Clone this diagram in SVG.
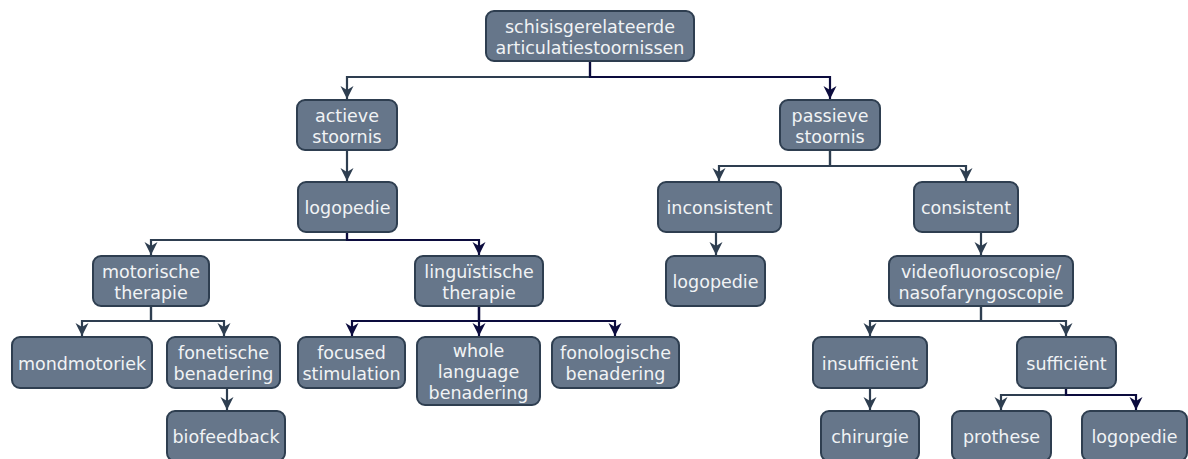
<svg xmlns="http://www.w3.org/2000/svg" width="1188" height="459" viewBox="0 0 1188 459">
<style>
.n rect{fill:#66768a;stroke:#2e3e50;stroke-width:2}
.n text{font-family:"DejaVu Sans",Verdana,sans-serif;font-size:17.5px;fill:#f1f3f5;text-anchor:middle}
.c path{fill:none;stroke-width:2.2}
.s{stroke:#2e3e50}
.v{stroke:#0c0c3e}
</style>
<defs>
<marker id="as" markerUnits="userSpaceOnUse" markerWidth="14" markerHeight="14" refX="13" refY="7" orient="auto"><path d="M0,0.5 L13,7 L0,13.5 L4,7 z" fill="#2e3e50"/></marker>
<marker id="av" markerUnits="userSpaceOnUse" markerWidth="14" markerHeight="14" refX="13" refY="7" orient="auto"><path d="M0,0.5 L13,7 L0,13.5 L4,7 z" fill="#0c0c3e"/></marker>
</defs>
<rect width="1188" height="459" fill="#ffffff"/>
<g id="connectors" class="c">
<path class="s" marker-end="url(#as)" d="M590 61 V77 H347 V99"/>
<path class="s" marker-end="url(#as)" d="M347 150 V181"/>
<path class="s" marker-end="url(#as)" d="M830 150 V166 H719 V181"/>
<path class="s" marker-end="url(#as)" d="M830 150 V166 H966 V181"/>
<path class="s" marker-end="url(#as)" d="M347 232 V240 H151 V255"/>
<path class="s" marker-end="url(#as)" d="M716 232 V255"/>
<path class="s" marker-end="url(#as)" d="M981 232 V255"/>
<path class="s" marker-end="url(#as)" d="M151 306 V321 H82 V336"/>
<path class="s" marker-end="url(#as)" d="M151 306 V321 H224 V336"/>
<path class="s" marker-end="url(#as)" d="M981 306 V321 H870 V336"/>
<path class="s" marker-end="url(#as)" d="M981 306 V321 H1066 V336"/>
<path class="s" marker-end="url(#as)" d="M227 388 V410"/>
<path class="s" marker-end="url(#as)" d="M870 388 V410"/>
<path class="s" marker-end="url(#as)" d="M1066 388 V395 H1001 V410"/>
<path class="v" marker-end="url(#av)" d="M590 61 V77 H830 V99"/>
<path class="v" marker-end="url(#av)" d="M347 232 V240 H479 V255"/>
<path class="v" marker-end="url(#av)" d="M479 306 V321 H352 V336"/>
<path class="v" marker-end="url(#av)" d="M479 306 V336"/>
<path class="v" marker-end="url(#av)" d="M479 306 V321 H615 V336"/>
<path class="v" marker-end="url(#av)" d="M1066 388 V395 H1136 V410"/>
</g>
<g id="root" class="n"><rect x="486" y="11" width="208" height="50" rx="8"/><text x="590" y="33">schisisgerelateerde</text><text x="590" y="54">articulatiestoornissen</text></g>
<g id="actieve" class="n"><rect x="297" y="100" width="100" height="50" rx="8"/><text x="347" y="122">actieve</text><text x="347" y="143">stoornis</text></g>
<g id="passieve" class="n"><rect x="780" y="100" width="100" height="50" rx="8"/><text x="830" y="122">passieve</text><text x="830" y="143">stoornis</text></g>
<g id="logopedie1" class="n"><rect x="298" y="182" width="99" height="50" rx="8"/><text x="347.5" y="214">logopedie</text></g>
<g id="inconsistent" class="n"><rect x="658" y="182" width="123" height="50" rx="8"/><text x="719.5" y="214">inconsistent</text></g>
<g id="consistent" class="n"><rect x="914" y="182" width="104" height="50" rx="8"/><text x="966" y="214">consistent</text></g>
<g id="motorische" class="n"><rect x="93" y="256" width="116" height="50" rx="8"/><text x="151" y="278">motorische</text><text x="151" y="299">therapie</text></g>
<g id="linguistische" class="n"><rect x="415" y="256" width="128" height="50" rx="8"/><text x="479" y="278">linguïstische</text><text x="479" y="299">therapie</text></g>
<g id="logopedie2" class="n"><rect x="666" y="256" width="99" height="50" rx="8"/><text x="715.5" y="288">logopedie</text></g>
<g id="video" class="n"><rect x="889" y="256" width="184" height="50" rx="8"/><text x="981" y="278">videofluoroscopie/</text><text x="981" y="299">nasofaryngoscopie</text></g>
<g id="mondmotoriek" class="n"><rect x="12" y="337" width="140" height="51" rx="8"/><text x="82" y="370">mondmotoriek</text></g>
<g id="fonetische" class="n"><rect x="167" y="337" width="113" height="51" rx="8"/><text x="223.5" y="359">fonetische</text><text x="223.5" y="380">benadering</text></g>
<g id="focused" class="n"><rect x="298" y="337" width="107" height="51" rx="8"/><text x="351.5" y="359">focused</text><text x="351.5" y="380">stimulation</text></g>
<g id="whole" class="n"><rect x="417" y="337" width="123" height="68" rx="8"/><text x="478.5" y="357">whole</text><text x="478.5" y="378">language</text><text x="478.5" y="399">benadering</text></g>
<g id="fonologische" class="n"><rect x="552" y="337" width="127" height="51" rx="8"/><text x="615.5" y="359">fonologische</text><text x="615.5" y="380">benadering</text></g>
<g id="insufficient" class="n"><rect x="813" y="337" width="114" height="51" rx="8"/><text x="870" y="370">insufficiënt</text></g>
<g id="sufficient" class="n"><rect x="1017" y="337" width="99" height="51" rx="8"/><text x="1066.5" y="370">sufficiënt</text></g>
<g id="biofeedback" class="n"><rect x="167" y="411" width="118" height="50" rx="8"/><text x="226" y="443">biofeedback</text></g>
<g id="chirurgie" class="n"><rect x="821" y="411" width="98" height="50" rx="8"/><text x="870" y="443">chirurgie</text></g>
<g id="prothese" class="n"><rect x="952" y="411" width="99" height="50" rx="8"/><text x="1001.5" y="443">prothese</text></g>
<g id="logopedie3" class="n"><rect x="1082" y="411" width="105" height="50" rx="8"/><text x="1134.5" y="443">logopedie</text></g>
</svg>
